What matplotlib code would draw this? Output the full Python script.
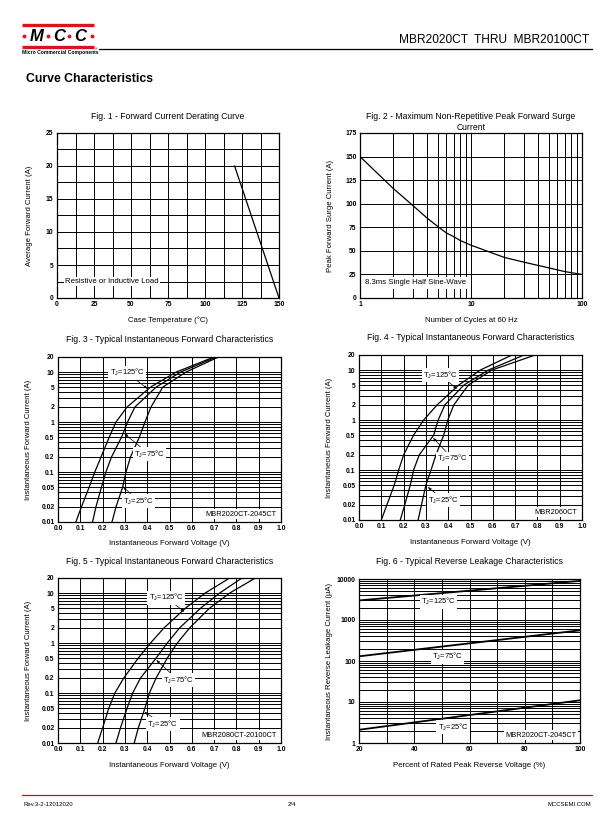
import numpy as np
import matplotlib.pyplot as plt

plt.rcParams['font.family'] = ['Liberation Sans', 'DejaVu Sans']
plt.rcParams['mathtext.fontset'] = 'custom'
plt.rcParams['mathtext.rm'] = 'Liberation Sans'
plt.rcParams['mathtext.default'] = 'regular'

# ---------------- data ----------------
# Fig. 1 - derating
derate_temp = [120, 150]
derate_current = [20, 0]

# Fig. 2 - surge current vs cycles
surge_cycles = [1, 2, 3, 4, 5, 6, 7, 8, 10, 20, 30, 50, 70, 100]
surge_current = [150, 116, 98, 85, 76, 69, 65, 61, 56, 43, 38, 32, 28, 25]

# Figs. 3-5 - forward voltage at these current levels
iv_current = [0.01, 0.02, 0.05, 0.1, 0.2, 0.5, 1, 2, 5, 10, 20]

fig3_v125 = [0.080, 0.105, 0.140, 0.165, 0.193, 0.230, 0.260, 0.310, 0.415, 0.530, 0.700]
fig3_v75 = [0.155, 0.170, 0.195, 0.215, 0.240, 0.285, 0.312, 0.345, 0.440, 0.550, 0.710]
fig3_v25 = [0.242, 0.260, 0.290, 0.305, 0.325, 0.365, 0.390, 0.417, 0.470, 0.574, 0.720]

fig4_v125 = [0.100, 0.125, 0.158, 0.178, 0.200, 0.245, 0.290, 0.350, 0.447, 0.544, 0.686]
fig4_v75 = [0.185, 0.205, 0.230, 0.245, 0.270, 0.335, 0.355, 0.385, 0.470, 0.580, 0.740]
fig4_v25 = [0.265, 0.280, 0.300, 0.323, 0.345, 0.380, 0.398, 0.425, 0.490, 0.596, 0.790]

fig5_v125 = [0.178, 0.200, 0.228, 0.255, 0.295, 0.360, 0.415, 0.475, 0.572, 0.660, 0.770]
fig5_v75 = [0.260, 0.280, 0.310, 0.335, 0.370, 0.440, 0.490, 0.545, 0.640, 0.725, 0.825]
fig5_v25 = [0.342, 0.360, 0.390, 0.410, 0.440, 0.490, 0.535, 0.590, 0.680, 0.770, 0.885]

# Fig. 6 - reverse leakage (uA) vs percent of rated voltage
leak_pct = [20, 100]
leak_125 = [3000, 9000]
leak_75 = [130, 560]
leak_25 = [2.1, 11]

W, H = 612, 825
fig = plt.figure(figsize=(W / 100, H / 100), dpi=100)


def rect(left, top, right, bottom):
    return [left / W, 1 - bottom / H, (right - left) / W, (bottom - top) / H]


def style_axes(ax):
    for s in ax.spines.values():
        s.set_linewidth(0.9)
        s.set_color('black')
    ax.tick_params(length=0, labelsize=4.9, pad=2.5)
    for lab in ax.get_xticklabels() + ax.get_yticklabels():
        lab.set_fontweight('bold')
    ax.grid(True, color='black', linewidth=0.7)
    ax.set_axisbelow(True)


def bold_ticks(ax):
    for lab in ax.get_xticklabels() + ax.get_yticklabels():
        lab.set_fontweight('bold')


def fig_title(ax, text, dy):
    ax.text(0.5, 1 + dy, text, transform=ax.transAxes, ha='center', va='center',
            fontsize=6.2, linespacing=1.2)


def axis_labels(ax, xlabel, ylabel, xl_y, yl_x):
    ax.set_xlabel(xlabel, fontsize=5.6)
    ax.set_ylabel(ylabel, fontsize=5.6)
    ax.xaxis.set_label_coords(0.5, xl_y)
    ax.yaxis.set_label_coords(yl_x, 0.5)


box = dict(facecolor='white', edgecolor='none', pad=1.0)


def tj_label(ax, text, xy_text, xy_curve=None):
    if xy_curve is None:
        ax.text(*xy_text, text, fontsize=5.5, ha='center', va='center', bbox=box, zorder=4)
    else:
        ax.annotate(text, xy=xy_curve, xytext=xy_text, fontsize=5.5, ha='center',
                    va='center', bbox=box, zorder=4,
                    arrowprops=dict(arrowstyle='-|>,head_length=0.35,head_width=0.12',
                                    color='black', lw=0.5, shrinkA=0, shrinkB=0))


# ---------------- Fig. 1 ----------------
ax1 = fig.add_axes(rect(57, 133, 279, 298))
style_axes(ax1)
ax1.set_xlim(0, 150)
ax1.set_ylim(0, 25)
xt = np.arange(0, 150.1, 12.5)
ax1.set_xticks(xt)
ax1.set_xticklabels([f'{int(v)}' if v % 25 == 0 else '' for v in xt])
yt = np.arange(0, 25.1, 2.5)
ax1.set_yticks(yt)
ax1.set_yticklabels([f'{int(v)}' if v % 5 == 0 else '' for v in yt])
bold_ticks(ax1)
ax1.plot(derate_temp, derate_current, color='black', lw=0.9)
ax1.text(5.5, 2.5, 'Resistive or Inductive Load', fontsize=5.6, ha='left', va='center',
         bbox=box)
fig_title(ax1, 'Fig. 1 - Forward Current Derating Curve', 16 / 165)
axis_labels(ax1, 'Case Temperature (°C)', 'Average Forward Current (A)', -0.11, -0.107)

# ---------------- Fig. 2 ----------------
ax2 = fig.add_axes(rect(360, 133, 582, 298))
style_axes(ax2)
ax2.set_xscale('log')
ax2.set_xlim(1, 100)
ax2.set_ylim(0, 175)
xt2 = [1, 2, 3, 4, 5, 6, 7, 8, 9, 10, 20, 30, 40, 50, 60, 70, 80, 90, 100]
ax2.minorticks_off()
ax2.set_xticks(xt2)
ax2.set_xticklabels([str(v) if v in (1, 10, 100) else '' for v in xt2])
ax2.set_yticks(np.arange(0, 176, 25))
ax2.minorticks_off()
bold_ticks(ax2)
ax2.plot(surge_cycles, surge_current, color='black', lw=0.9)
ax2.text(1.12, 16, '8.3ms Single Half Sine-Wave', fontsize=5.6, ha='left', va='center',
         bbox=dict(facecolor='white', edgecolor='none', pad=2.0))
fig_title(ax2, 'Fig. 2 - Maximum Non-Repetitive Peak Forward Surge\nCurrent', 11 / 165)
axis_labels(ax2, 'Number of Cycles at 60 Hz', 'Peak Forward Surge Current (A)', -0.115, -0.117)


# ---------------- Figs. 3-5 ----------------
def iv_axes(r):
    ax = fig.add_axes(r)
    style_axes(ax)
    ax.set_yscale('log')
    ax.set_xlim(0, 1)
    ax.set_ylim(0.01, 20)
    ax.set_xticks(np.round(np.arange(0, 1.01, 0.1), 1))
    ax.set_xticklabels([f'{v:.1f}' for v in np.arange(0, 1.01, 0.1)])
    grid_y = [m * 10.0 ** e for e in (-2, -1, 0) for m in range(1, 10)] + [10, 20]
    labels = {0.01: '0.01', 0.02: '0.02', 0.05: '0.05', 0.1: '0.1', 0.2: '0.2', 0.5: '0.5',
              1: '1', 2: '2', 5: '5', 10: '10', 20: '20'}
    ax.set_yticks(grid_y)
    ax.set_yticklabels([labels.get(round(v, 3), '') for v in grid_y])
    ax.minorticks_off()
    bold_ticks(ax)
    return ax


iv_sets = [
    (rect(58, 357, 281, 522), 'Fig. 3 - Typical Instantaneous Forward Characteristics',
     (fig3_v125, fig3_v75, fig3_v25), 'MBR2020CT-2045CT',
     [((0.31, 9.7), (0.402, 4.6)), ((0.41, 0.225), (0.297, 0.59)), ((0.36, 0.026), (0.29, 0.052))],
     -0.11),
    (rect(359, 355, 582, 520), 'Fig. 4 - Typical Instantaneous Forward Characteristics',
     (fig4_v125, fig4_v75, fig4_v25), 'MBR2060CT',
     [((0.365, 7.8), (0.44, 4.2)), ((0.42, 0.168), (0.332, 0.44)), ((0.38, 0.025), (0.308, 0.046))],
     -0.115),
    (rect(58, 578, 281, 743), 'Fig. 5 - Typical Instantaneous Forward Characteristics',
     (fig5_v125, fig5_v75, fig5_v25), 'MBR2080CT-20100CT',
     [((0.485, 8.1), (0.567, 4.2)), ((0.54, 0.18), (0.44, 0.46)), ((0.47, 0.024), (0.387, 0.042))],
     -0.113),
]
tj_texts = ['T$_J$=125°C', 'T$_J$=75°C', 'T$_J$=25°C']

for r, title, curves, model, label_pos, xl_y in iv_sets:
    ax = iv_axes(r)
    for v in curves:
        ax.plot(v, iv_current, color='black', lw=0.9)
    for txt, (pt, pc) in zip(tj_texts, label_pos):
        tj_label(ax, txt, pt, pc)
    ax.text(0.98, 0.0142, model, fontsize=5.3, ha='right', va='center', bbox=box, zorder=4)
    fig_title(ax, title, 17 / 165)
    axis_labels(ax, 'Instantaneous Forward Voltage (V)', 'Instantaneous Forward Current (A)',
                xl_y, -0.118)

# ---------------- Fig. 6 ----------------
ax6 = fig.add_axes(rect(359, 579, 580, 743))
style_axes(ax6)
ax6.set_yscale('log')
ax6.set_xlim(20, 100)
ax6.set_ylim(1, 10000)
xt6 = np.arange(20, 101, 10)
ax6.set_xticks(xt6)
ax6.set_xticklabels([str(v) if v % 20 == 0 else '' for v in xt6])
mult6 = [m for e in range(0, 4) for m in range(1, 10)] + [1]
grid6 = [m * 10.0 ** e for e in range(0, 4) for m in range(1, 10)] + [10000]
ax6.set_yticks(grid6)
ax6.set_yticklabels([str(int(round(v))) if m == 1 else '' for v, m in zip(grid6, mult6)])
ax6.minorticks_off()
bold_ticks(ax6)
for vals in (leak_125, leak_75, leak_25):
    ax6.plot(leak_pct, vals, color='black', lw=1.3)
tj_label(ax6, tj_texts[0], (48.8, 2790))
tj_label(ax6, tj_texts[1], (52, 126))
tj_label(ax6, tj_texts[2], (54, 2.46))
ax6.text(98.8, 1.54, 'MBR2020CT-2045CT', fontsize=5.3, ha='right', va='center', bbox=box,
         zorder=4)
fig_title(ax6, 'Fig. 6 - Typical Reverse Leakage Characteristics', 17 / 164)
axis_labels(ax6, 'Percent of Rated Peak Reverse Voltage (%)',
            'Instantaneous Reverse Leakage Current (µA)', -0.118, -0.118)

# ---------------- page header / footer ----------------
pg = fig.add_axes([0, 0, 1, 1], zorder=-1)
pg.set_xlim(0, W)
pg.set_ylim(H, 0)
pg.axis('off')
red = '#d8141c'
pg.plot([22, 94], [25, 25], color=red, lw=2.4, solid_capstyle='butt')
pg.plot([22, 94], [46.5, 46.5], color=red, lw=2.4, solid_capstyle='butt')
for x in (24, 48, 69, 92):
    pg.plot(x, 36, 'o', color=red, ms=2.8, mew=0)
for x, ch in ((36.5, 'M'), (59, 'C'), (80.5, 'C')):
    pg.text(x, 36.5, ch, fontsize=12, fontweight='heavy', fontstyle='italic', ha='center',
            va='center')
pg.text(22, 52.5, 'Micro Commercial Components', fontsize=3.6, fontweight='bold',
        ha='left', va='center')
pg.text(95, 49, '®', fontsize=2.5, ha='left', va='center')
pg.plot([99, 592], [48.5, 48.5], color='black', lw=0.9)
pg.text(589, 40, 'MBR2020CT  THRU  MBR20100CT', fontsize=8.6, ha='right', va='center')
pg.text(26, 79, 'Curve Characteristics', fontsize=8.8, fontweight='bold', ha='left',
        va='center')

pg.plot([22, 592], [795, 795], color='#c0141c', lw=0.9)
pg.text(24, 804, 'Rev.3-2-12012020', fontsize=4.3, ha='left', va='center')
pg.text(292, 804, '2/4', fontsize=4.3, ha='center', va='center')
pg.text(591, 804, 'MCCSEMI.COM', fontsize=4.3, ha='right', va='center')

fig.savefig('out.png', dpi=100, facecolor='white')
